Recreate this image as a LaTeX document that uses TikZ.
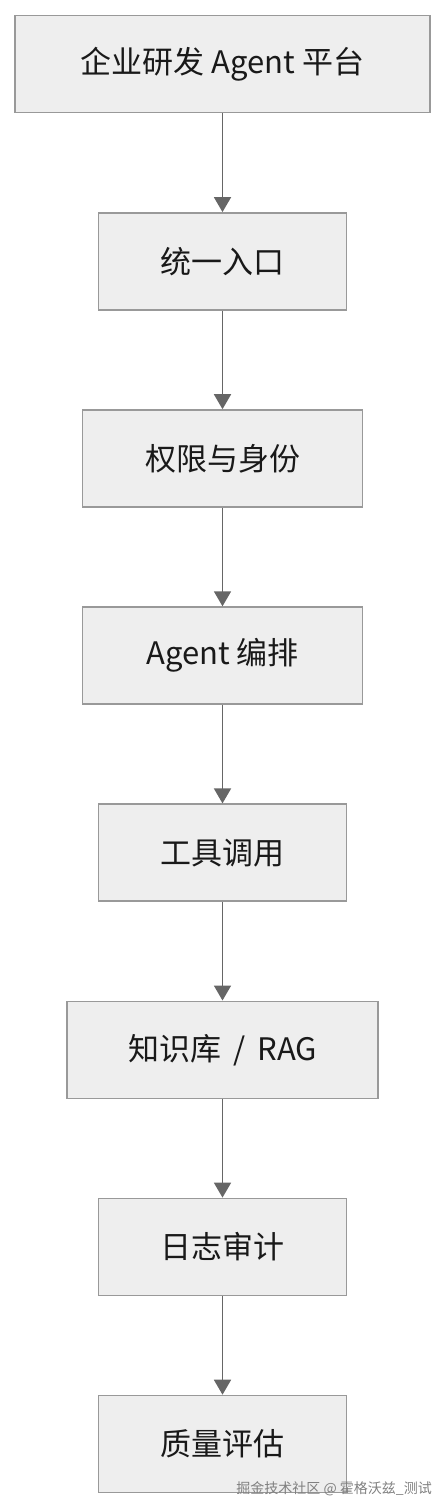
\documentclass[tikz,border=0pt]{standalone}
\usepackage{fontspec}
\setmainfont{Noto Sans CJK SC}
\usepackage{tikz}
\usetikzlibrary{arrows.meta, positioning}

\definecolor{boxfill}{HTML}{EEEEEE}
\definecolor{boxline}{HTML}{999999}
\definecolor{arrowgray}{HTML}{666666}

\begin{document}
\begin{tikzpicture}[
    x=1pt, y=1pt,
    node distance=98.6pt,
    stepbox/.style={rectangle, draw=boxline, line width=1.5pt, fill=boxfill, text centered, minimum height=97pt, inner sep=0pt, font=\fontsize{31}{34}\selectfont, text=black!90},
    arrow/.style={line width=1.8pt, draw=arrowgray, -{Triangle[length=15pt, width=17pt]}}
]
\useasboundingbox (0,0) rectangle (446,-1511);

% ---------- 节点 ----------
\node (platform) [stepbox, minimum width=415pt, anchor=north] at (222.5,-15) {企业研发 Agent 平台};
\node (entry) [stepbox, minimum width=248pt, below=of platform] {统一入口};
\node (auth) [stepbox, minimum width=280pt, below=of entry] {权限与身份};
\node (orch) [stepbox, minimum width=280pt, below=of auth] {Agent 编排};
\node (tools) [stepbox, minimum width=248pt, below=of orch] {工具调用};
\node (rag) [stepbox, minimum width=311pt, below=of tools] {知识库 \,/\, RAG};
\node (audit) [stepbox, minimum width=248pt, below=of rag] {日志审计};
\node (eval) [stepbox, minimum width=248pt, below=of audit] {质量评估};

% ---------- 箭头 ----------
\draw [arrow] (platform) -- (entry);
\draw [arrow] (entry) -- (auth);
\draw [arrow] (auth) -- (orch);
\draw [arrow] (orch) -- (tools);
\draw [arrow] (tools) -- (rag);
\draw [arrow] (rag) -- (audit);
\draw [arrow] (audit) -- (eval);

% 水印
\node (mark) [anchor=east, font=\fontsize{14}{16}\selectfont, text=black!50, inner sep=0pt] at (432,-1489) {掘金技术社区 @ 霍格沃兹\_测试};

\end{tikzpicture}
\end{document}
